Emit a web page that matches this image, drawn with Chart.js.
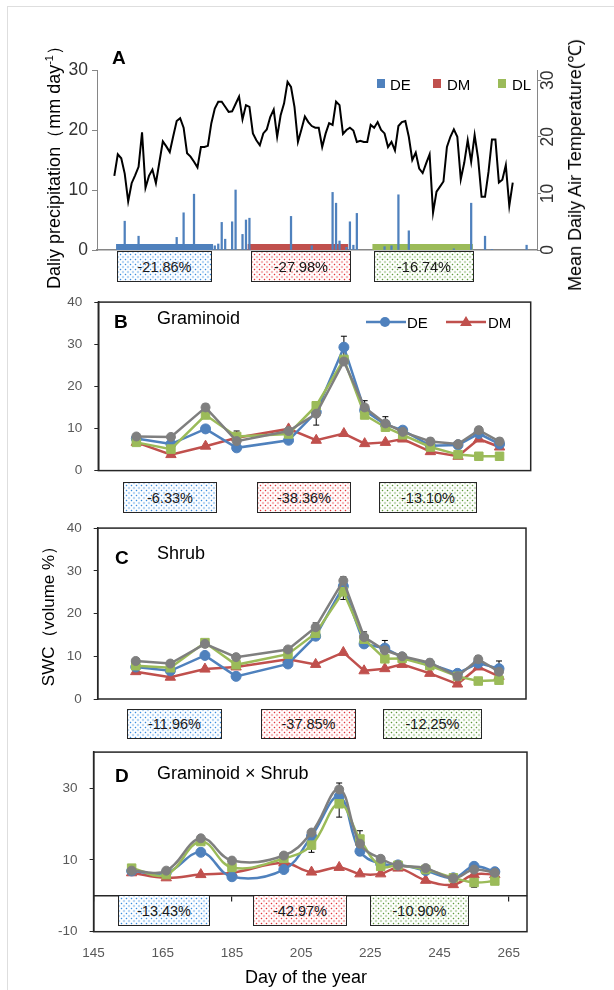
<!DOCTYPE html>
<html>
<head>
<meta charset="utf-8">
<title>Precipitation, temperature and SWC</title>
<script src="https://cdn.jsdelivr.net/npm/chart.js@4.4.0/dist/chart.umd.min.js"></script>
<style>
  body { margin: 0; background: #fff; }
  #fig { position: relative; width: 614px; height: 990px; overflow: hidden;
         font-family: "Liberation Sans", Arial, sans-serif; color: #000; }
  #fig canvas { position: absolute; left: 0; }
  .outline { position: absolute; left: 7px; top: 6px; right: -5px; bottom: -5px;
             border-left: 1px solid #dedede; border-top: 1px solid #dedede; }
  .txt { position: absolute; white-space: nowrap; line-height: 1; transform: translateY(-50%); }
  .vert { position: absolute; white-space: nowrap; line-height: 1; transform: translate(-50%, -50%) rotate(-90deg); }
  .tag { font-weight: bold; font-size: 19px; }
  .name { font-size: 18px; }
  .leg { font-size: 15px; }
  .sq { position: absolute; width: 8px; height: 9px; }
  .box { position: absolute; box-sizing: border-box; border: 1.5px solid #262626; font-size: 14.5px;
         display: flex; align-items: center; justify-content: center; color: #1a1a1a; }
  .p-DE, .p-DM, .p-DL { background-color: #fff; background-size: 5px 5px; background-position: 0 0, 2.5px 2.5px; }
  .p-DE { background-image: radial-gradient(circle, #3a8de0 0 0.6px, transparent 1.1px), radial-gradient(circle, #3a8de0 0 0.6px, transparent 1.1px); }
  .p-DM { background-image: radial-gradient(circle, #e3363b 0 0.6px, transparent 1.1px), radial-gradient(circle, #e3363b 0 0.6px, transparent 1.1px); }
  .p-DL { background-image: radial-gradient(circle, #5f9b3c 0 0.6px, transparent 1.1px), radial-gradient(circle, #5f9b3c 0 0.6px, transparent 1.1px); }
</style>
</head>
<body>
<div id="fig">
  <div class="outline"></div>
  <canvas id="chartA" width="614" height="216" style="top:52px"></canvas>
  <canvas id="chartB" width="614" height="212" style="top:282px"></canvas>
  <canvas id="chartC" width="614" height="212" style="top:508px"></canvas>
  <canvas id="chartD" width="614" height="240" style="top:732px"></canvas>

  <div class="vert name" style="left:53px; top:163px;">Daliy precipitation（mm day<sup style="font-size:11px">-1</sup>）</div>
  <div class="vert name" style="left:575px; top:165px;">Mean Daily Air Temperature(℃)</div>
  <div class="vert" style="left:48px; top:612px; font-size:17px;">SWC（volume %）</div>
  <div class="txt name" style="left:245px; top:977px;">Day of the year</div>

  <div class="txt tag" style="left:112px; top:57px;">A</div>
  <div class="sq" style="left:377px; top:79px; background:#4F81BD;"></div>
  <div class="txt leg" style="left:390px; top:84px;">DE</div>
  <div class="sq" style="left:433px; top:79px; background:#C0504D;"></div>
  <div class="txt leg" style="left:447px; top:84px;">DM</div>
  <div class="sq" style="left:498px; top:79px; background:#9BBB59;"></div>
  <div class="txt leg" style="left:512px; top:84px;">DL</div>

  <div class="txt tag" style="left:114px; top:321px;">B</div>
  <div class="txt name" style="left:157px; top:318px;">Graminoid</div>
  <svg style="position:absolute; left:366px; top:314px;" width="40" height="16">
    <line x1="0" y1="8" x2="40" y2="8" stroke="#4F81BD" stroke-width="2.5"/>
    <circle cx="19" cy="8" r="5" fill="#4F81BD"/>
  </svg>
  <div class="txt leg" style="left:407px; top:322px;">DE</div>
  <svg style="position:absolute; left:446px; top:314px;" width="40" height="16">
    <line x1="0" y1="8" x2="40" y2="8" stroke="#C0504D" stroke-width="2.5"/>
    <polygon points="20,2 26,12 14,12" fill="#C0504D"/>
  </svg>
  <div class="txt leg" style="left:488px; top:322px;">DM</div>

  <div class="txt tag" style="left:115px; top:557px;">C</div>
  <div class="txt name" style="left:157px; top:553px;">Shrub</div>

  <div class="txt tag" style="left:115px; top:775px;">D</div>
  <div class="txt name" style="left:157px; top:773px;">Graminoid × Shrub</div>
</div>

<script>
// ---- panel A: weather ----
const tempFirstDay = 150;
const tempC = [
  13.1, 16.9, 16.2, 13.5, 8.6, 11.8, 13.2, 14.7, 20.8, 11.0,
  13.1, 14.2, 11.8, 15.5, 19.2, 18.3, 17.3, 20.1, 22.8, 23.3,
  21.6, 17.1, 16.5, 15.6, 14.6, 18.2, 18.2, 18.4, 22.4, 25.0,
  26.2, 26.2, 25.3, 24.4, 24.5, 25.8, 27.1, 23.1, 25.6, 25.3,
  20.6, 19.4, 18.5, 20.6, 21.3, 23.5, 24.8, 20.0, 23.8, 25.9,
  29.7, 28.8, 25.3, 19.1, 21.3, 23.6, 22.6, 21.9, 21.6, 21.6,
  18.2, 20.6, 22.4, 22.1, 26.2, 25.6, 20.5, 21.2, 21.6, 21.1,
  19.1, 19.3, 19.1, 19.1, 22.1, 21.6, 22.6, 21.2, 20.6, 18.2,
  19.1, 17.6, 21.9, 22.6, 22.8, 20.0, 15.9, 17.2, 14.4, 13.6,
  15.3, 16.9, 6.6, 10.3, 11.2, 12.1, 18.2, 20.0, 21.3, 20.0,
  12.5, 15.4, 19.4, 15.6, 20.3, 16.2, 9.4, 9.4, 13.8, 19.5,
  19.5, 11.9, 12.4, 15.0, 7.8, 11.9
];
const precipDay = [153, 157, 168, 170, 173, 179, 180, 181, 182, 184, 185, 187, 188, 189, 201, 207,
                   213, 214, 215, 217, 218, 219, 220, 228, 230, 232, 235, 248, 253, 257, 259, 269];
const precipMm = [4.8, 2.3, 2.1, 6.2, 9.3, 0.7, 1.0, 4.6, 1.8, 4.7, 10.0, 2.6, 5.0, 5.3, 5.6, 0.7,
                  9.6, 7.8, 1.5, 0.45, 4.7, 0.8, 6.1, 0.55, 0.7, 9.2, 3.2, 0.2, 7.8, 2.3, 0.1, 0.8];
const precipTicks = [0, 10, 20, 30];
const tempTicks = [0, 10, 20, 30];
const tempAxisMax = 31.8;

// drought periods
const periodNames = ['DE', 'DM', 'DL'];
const periodStart = [151, 189, 225];
const periodEnd = [178, 217, 253];
const periodColors = ['#4F81BD', '#C0504D', '#9BBB59'];

// change in each period, per panel
const changeA = ['-21.86%', '-27.98%', '-16.74%'];
const changeB = ['-6.33%', '-38.36%', '-13.10%'];
const changeC = ['-11.96%', '-37.85%', '-12.25%'];
const changeD = ['-13.43%', '-42.97%', '-10.90%'];

// ---- panels B-D: soil water content ----
const sampleDays = [156, 166, 176, 185, 200, 208, 216, 222, 228, 233, 241, 249, 255, 261];
const dayTicks = [145, 165, 185, 205, 225, 245, 265];

const graminoidDE = [7.6, 6.3, 9.9, 5.4, 7.2, 13.9, 29.3, 14.3, 10.9, 9.6, 5.9, 6.1, 8.8, 6.3];
const graminoidDM = [6.7, 3.8, 5.8, 7.8, 9.9, 7.2, 8.8, 6.4, 6.7, 7.5, 4.5, 3.4, 7.5, 5.6];
const graminoidDL = [6.7, 5.1, 13.2, 8.1, 8.7, 15.4, 26.4, 13.2, 10.3, 8.5, 5.6, 3.8, 3.4, 3.4];
const graminoidCK = [8.1, 8.0, 15.0, 7.0, 9.4, 13.5, 25.9, 15.0, 11.2, 9.2, 6.9, 6.3, 9.6, 6.9];
const graminoidErrDE = [0.5, 0.5, 0.6, 0.5, 0.5, 0.8, 2.6, 0.8, 0.8, 0.6, 0.5, 0.5, 0.6, 0.5];
const graminoidErrCK = [0.6, 0.6, 0.8, 2.4, 0.6, 2.7, 0.8, 1.6, 1.6, 0.6, 0.8, 0.8, 0.8, 0.8];

const shrubDE = [7.5, 6.6, 10.2, 5.3, 8.2, 14.7, 26.4, 12.9, 11.9, 9.8, 8.2, 6.0, 8.4, 7.1];
const shrubDM = [6.4, 5.1, 7.0, 7.5, 9.3, 8.1, 10.9, 6.6, 7.1, 8.1, 6.0, 3.5, 7.5, 5.3];
const shrubDL = [7.8, 7.3, 13.2, 8.0, 10.5, 15.4, 25.1, 14.0, 9.4, 9.5, 7.8, 5.3, 4.2, 4.4];
const shrubCK = [8.9, 8.3, 12.9, 9.8, 11.6, 16.8, 27.7, 14.5, 11.4, 10.0, 8.5, 5.3, 9.3, 6.4];
const shrubErrDE = [0.5, 0.5, 0.6, 0.5, 0.5, 0.8, 0.8, 0.8, 1.8, 0.6, 0.5, 0.5, 0.6, 1.8];
const shrubErrDL = [0.5, 0.5, 0.6, 0.5, 0.5, 0.8, 1.8, 0.8, 0.6, 0.6, 0.5, 0.5, 0.5, 0.5];
const shrubErrCK = [0.6, 0.6, 0.7, 0.7, 0.6, 1.0, 0.9, 1.2, 0.8, 0.7, 0.8, 0.8, 0.8, 0.8];

const mixDE = [6.9, 6.4, 12.1, 5.3, 7.3, 16.6, 27.6, 12.4, 8.9, 8.6, 7.0, 5.0, 8.2, 6.7];
const mixDM = [6.4, 5.0, 5.9, 6.4, 9.1, 6.6, 7.9, 6.1, 6.1, 7.7, 4.3, 3.1, 5.9, 5.9];
const mixDL = [7.7, 5.9, 15.1, 7.9, 10.4, 14.1, 25.6, 15.8, 8.2, 8.5, 7.3, 5.0, 3.7, 4.1];
const mixCK = [7.0, 7.0, 16.0, 9.8, 11.2, 17.6, 29.6, 14.5, 10.3, 8.5, 7.7, 4.9, 7.3, 6.4];
const mixErrDE = [0.5, 0.5, 0.6, 0.5, 0.5, 0.8, 0.8, 1.2, 0.6, 0.6, 0.5, 0.5, 0.6, 0.5];
const mixErrDL = [0.5, 0.5, 0.6, 0.5, 0.5, 2.0, 3.7, 2.3, 0.6, 0.6, 0.5, 0.5, 1.3, 0.5];
const mixErrCK = [0.6, 0.6, 0.8, 0.8, 0.6, 0.8, 1.8, 0.8, 0.8, 0.7, 0.8, 0.8, 1.5, 0.8];

const swcTicks = [0, 10, 20, 30, 40];
const mixTicks = [-10, 10, 30];

Chart.defaults.font.family = '"Liberation Sans", Arial, sans-serif';

const AXIS_GRAY = '#868686';
const INK = '#262626';

// box round the plot area
const framePlugin = {
    id: 'frame',
    afterDraw(chart, args, opts) {
        if (!opts.show) return;
        const a = chart.chartArea;
        const ctx = chart.ctx;
        ctx.save();
        ctx.strokeStyle = INK;
        ctx.lineWidth = 1.5;
        ctx.strokeRect(a.left, a.top, a.right - a.left, a.bottom - a.top);
        ctx.restore();
    }
};

// +/- error bars, drawn under the markers
const errorBarPlugin = {
    id: 'errorBars',
    beforeDatasetsDraw(chart) {
        const ctx = chart.ctx;
        chart.data.datasets.forEach((ds, i) => {
            if (!ds.errors) return;
            const meta = chart.getDatasetMeta(i);
            const yScale = chart.scales[meta.yAxisID];
            ctx.save();
            ctx.strokeStyle = '#000';
            ctx.lineWidth = 1;
            meta.data.forEach((pt, j) => {
                const e = ds.errors[j];
                if (!e) return;
                const v = ds.data[j].y;
                const top = yScale.getPixelForValue(v + e);
                const bot = yScale.getPixelForValue(v - e);
                ctx.beginPath();
                ctx.moveTo(pt.x, top); ctx.lineTo(pt.x, bot);
                ctx.moveTo(pt.x - 3, top); ctx.lineTo(pt.x + 3, top);
                ctx.moveTo(pt.x - 3, bot); ctx.lineTo(pt.x + 3, bot);
                ctx.stroke();
            });
            ctx.restore();
        });
    }
};

Chart.register(framePlugin, errorBarPlugin);

const fig = document.getElementById('fig');

function addBoxes(labels, lefts, rights, top, height) {
    labels.forEach((text, i) => {
        const div = document.createElement('div');
        div.className = 'box p-' + periodNames[i];
        div.style.left = lefts[i] + 'px';
        div.style.top = top + 'px';
        div.style.width = (rights[i] - lefts[i]) + 'px';
        div.style.height = height + 'px';
        div.textContent = text;
        fig.appendChild(div);
    });
}

function createWeatherChart() {
    const datasets = [];

    datasets.push({
        type: 'line',
        label: 'Mean daily air temperature',
        yAxisID: 'yT',
        data: tempC.map((t, i) => ({ x: tempFirstDay + i, y: t })),
        borderColor: '#000',
        borderWidth: 2,
        pointRadius: 0,
        tension: 0,
        order: 0
    });

    datasets.push({
        type: 'bar',
        label: 'Daily precipitation',
        yAxisID: 'y',
        data: precipDay.map((d, i) => ({ x: d, y: precipMm[i] })),
        backgroundColor: '#4F81BD',
        barThickness: 1.6,
        order: 1
    });

    periodNames.forEach((name, i) => {
        datasets.push({
            type: 'line',
            label: name,
            yAxisID: 'y',
            data: [{ x: periodStart[i] - 0.5, y: 0.5 }, { x: periodEnd[i] + 0.5, y: 0.5 }],
            borderColor: periodColors[i],
            borderWidth: 6,
            borderCapStyle: 'butt',
            pointRadius: 0,
            order: 2
        });
    });

    new Chart(document.getElementById('chartA'), {
        type: 'line',
        data: { datasets: datasets },
        options: {
            responsive: false,
            animation: false,
            devicePixelRatio: 1,
            layout: { padding: { left: 0, right: 0, top: 18, bottom: 18 } },
            plugins: { legend: { display: false }, tooltip: { enabled: false } },
            scales: {
                x: {
                    type: 'linear', min: 145, max: 272, offset: false,
                    ticks: { display: false },
                    grid: { display: false, drawTicks: false, offset: false },
                    border: { display: true, color: AXIS_GRAY, width: 1.5 },
                    afterFit: (s) => { s.height = 0; }
                },
                y: {
                    position: 'left', min: 0, max: 30,
                    afterBuildTicks: (s) => { s.ticks = precipTicks.map((v) => ({ value: v })); },
                    ticks: { font: { size: 17.5 }, color: '#333', padding: 4 },
                    grid: { drawOnChartArea: false, tickLength: 5, color: AXIS_GRAY },
                    border: { color: AXIS_GRAY },
                    afterFit: (s) => { s.width = 97; }
                },
                yT: {
                    position: 'right', min: 0, max: tempAxisMax,
                    afterBuildTicks: (s) => { s.ticks = tempTicks.map((v) => ({ value: v })); },
                    ticks: { minRotation: 90, maxRotation: 90, crossAlign: 'center', padding: -3,
                             font: { size: 17.5 }, color: '#333' },
                    grid: { drawOnChartArea: false, tickLength: 4, color: AXIS_GRAY },
                    border: { color: AXIS_GRAY },
                    afterFit: (s) => { s.width = 77; }
                }
            }
        }
    });
}

function series(label, values, color, style, radius, errors, order, smooth) {
    return {
        label: label,
        data: values.map((v, i) => ({ x: sampleDays[i], y: v })),
        borderColor: color,
        backgroundColor: color,
        borderWidth: 2.5,
        pointStyle: style,
        pointRadius: radius,
        pointBorderWidth: 1,
        pointBorderColor: color,
        pointBackgroundColor: color,
        tension: smooth ? 0.4 : 0,
        errors: errors,
        order: order
    };
}

function createSwcChart(id, cfg) {
    const canvas = document.getElementById(id);
    const W = canvas.width;
    const H = canvas.height;
    const p = cfg.plot;

    const datasets = [
        series('CK', cfg.ck, '#7F7F7F', 'circle', 4.5, cfg.errCK, 0, cfg.smooth),
        series('DL', cfg.dl, '#9BBB59', 'rect', 6, cfg.errDL, 1, cfg.smooth),
        series('DE', cfg.de, '#4F81BD', 'circle', 5, cfg.errDE, 2, cfg.smooth),
        series('DM', cfg.dm, '#C0504D', 'triangle', 6, cfg.errDM, 3, cfg.smooth)
    ];

    const scales = {
        x: {
            type: 'linear', min: 145, max: cfg.xMax,
            display: cfg.showDays,
            afterBuildTicks: (s) => { s.ticks = dayTicks.map((v) => ({ value: v })); },
            ticks: { font: { size: 13.5 }, color: '#595959', padding: 13, maxRotation: 0 },
            grid: { display: false, drawTicks: false },
            border: { display: false },
            afterFit: (s) => { s.height = H - p.bottom; }
        },
        y: {
            min: cfg.yMin, max: cfg.yMax,
            afterBuildTicks: (s) => { s.ticks = cfg.yTicks.map((v) => ({ value: v })); },
            ticks: { font: { size: 13.5 }, color: '#595959', padding: 12 },
            grid: { drawOnChartArea: false, tickLength: 4, color: INK },
            border: { color: INK, width: 1.5 },
            afterFit: (s) => { s.width = p.left; }
        }
    };

    if (cfg.zeroLine) {
        scales.x0 = {
            type: 'linear', min: 145, max: cfg.xMax, position: { y: 0 },
            afterBuildTicks: (s) => { s.ticks = dayTicks.map((v) => ({ value: v })); },
            ticks: { display: false },
            grid: { drawOnChartArea: false, tickLength: 5, color: INK, lineWidth: 1.2 },
            border: { color: INK, width: 1.5 },
            afterFit: (s) => { s.height = 0; }
        };
    }

    new Chart(canvas, {
        type: 'line',
        data: { datasets: datasets },
        options: {
            responsive: false,
            animation: false,
            devicePixelRatio: 1,
            layout: {
                padding: {
                    left: 0,
                    right: W - p.right,
                    top: p.top,
                    bottom: cfg.showDays ? 0 : H - p.bottom
                }
            },
            plugins: {
                legend: { display: false },
                tooltip: { enabled: false },
                frame: { show: true }
            },
            scales: scales
        }
    });
}

createWeatherChart();

createSwcChart('chartB', {
    plot: { left: 98.3, right: 530.7, top: 16.3, bottom: 200.3 },
    xMax: 270, yMin: 0, yMax: 40, yTicks: swcTicks,
    de: graminoidDE, dm: graminoidDM, dl: graminoidDL, ck: graminoidCK,
    errDE: graminoidErrDE, errCK: graminoidErrCK,
    showDays: false, smooth: false
});

createSwcChart('chartC', {
    plot: { left: 97.7, right: 526, top: 16.3, bottom: 201.5 },
    xMax: 268.8, yMin: 0, yMax: 40, yTicks: swcTicks,
    de: shrubDE, dm: shrubDM, dl: shrubDL, ck: shrubCK,
    errDE: shrubErrDE, errDL: shrubErrDL, errCK: shrubErrCK,
    showDays: false, smooth: false
});

createSwcChart('chartD', {
    plot: { left: 93.6, right: 527, top: 15.3, bottom: 199.7 },
    xMax: 270.3, yMin: -10, yMax: 40, yTicks: mixTicks,
    de: mixDE, dm: mixDM, dl: mixDL, ck: mixCK,
    errDE: mixErrDE, errDL: mixErrDL, errCK: mixErrCK,
    showDays: true, zeroLine: true, smooth: true
});

addBoxes(changeA, [117, 251, 374], [212, 351, 474], 251, 31);
addBoxes(changeB, [123, 257, 379], [217, 351, 477], 482, 31);
addBoxes(changeC, [127, 261, 383], [222, 356, 482], 709, 30);
addBoxes(changeD, [118, 253, 370], [210, 347, 469], 895, 31);
</script>
</body>
</html>
